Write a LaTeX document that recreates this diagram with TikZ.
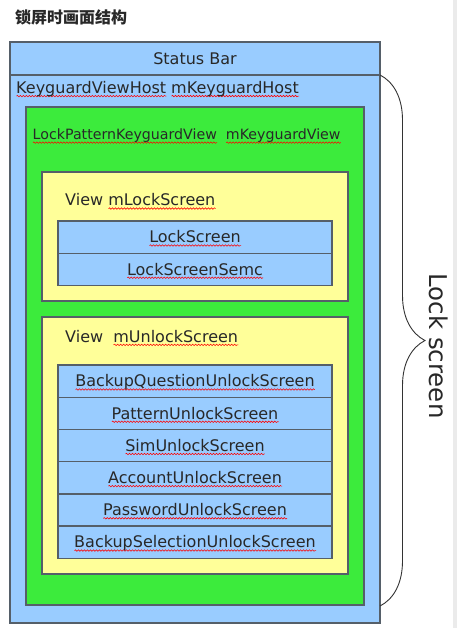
\documentclass[tikz,border=0pt]{standalone}
\usepackage{fontspec}
\setmainfont{DejaVu Sans}
\newfontfamily\cjk{Noto Sans CJK SC}
\usepackage{tikz}
\usetikzlibrary{positioning,decorations.pathreplacing,decorations.pathmorphing}

\definecolor{paleblue}{RGB}{153,204,255}
\definecolor{keygreen}{RGB}{60,235,60}
\definecolor{paleyellow}{RGB}{255,255,153}
\definecolor{edgegray}{RGB}{85,95,105}
\definecolor{txtgray}{RGB}{40,40,40}

% red spell-check wave under a word
\newdimen\wavewd
\newcommand\spellwave[1]{\setbox0=\hbox{#1}\wavewd=\wd0\rlap{\raisebox{-2.6pt}{\tikz[baseline=0pt,x=1pt,y=1pt]\draw[red,line width=0.55pt,decorate,decoration={snake,amplitude=0.75pt,segment length=3pt}] (0,0) -- (\wavewd,0);}}#1}

\begin{document}
\begin{tikzpicture}[x=1pt,y=-1pt,
	box/.style={draw=edgegray,line width=1.2pt,inner sep=0pt,outer sep=0pt,anchor=north west},
	bluebox/.style={box,fill=paleblue},
	greenbox/.style={box,fill=keygreen},
	yellowbox/.style={box,fill=paleyellow},
	rowbox/.style={bluebox,minimum width=274pt,minimum height=32.2pt,text height=11.7pt,text depth=0pt,text=txtgray,font=\fontsize{16}{19}\selectfont},
	sepline/.style={draw=edgegray,line width=1.4pt},
	lbl/.style={anchor=base west,inner sep=0pt,text=txtgray,font=\fontsize{16}{19}\selectfont},
	brace/.style={draw=black!80,line width=0.9pt,decorate,decoration={brace,amplitude=45pt}}]
	\useasboundingbox (0,0) rectangle (457,628);
	% window edge
	\fill[black!8] (453,0) rectangle (457,628);
	
	% title
	\node[anchor=west,inner sep=0pt,text=txtgray,font=\cjk\bfseries\fontsize{16}{18}\selectfont] (title) at (15,17) {锁屏时画面结构};
	
	% host and status bar
	\node[bluebox,minimum width=370pt,minimum height=548pt] (host) at (10,75) {};
	\node[bluebox,minimum width=370pt,minimum height=33pt,text height=11.7pt,text depth=0pt,text=txtgray,font=\fontsize{16}{19}\selectfont] (statusbar) at (10,42) {Status Bar};
	\node[lbl] (hostlbl) at (16,93.5) {\spellwave{KeyguardViewHost} \spellwave{mKeyguardHost}};
	
	% keyguard view
	\node[greenbox,minimum width=338pt,minimum height=498pt] (kgview) at (26,107) {};
	\node[lbl,font=\fontsize{14.2}{17}\selectfont] (kglbl) at (32.5,140) {\spellwave{LockPatternKeyguardView}\ \ \spellwave{mKeyguardView}};
	
	% lock screen
	\node[yellowbox,minimum width=306pt,minimum height=129pt] (lockview) at (42,172) {};
	\node[lbl] (locklbl) at (65,206) {View \spellwave{mLockScreen}};
	\node[rowbox] (lock1) at (58,221) {\spellwave{LockScreen}};
	\node[rowbox,below=0pt of lock1] (lock2) {\spellwave{LockScreenSemc}};
	\draw[sepline] (lock2.north west) -- (lock2.north east);
	
	% unlock screen
	\node[yellowbox,minimum width=306pt,minimum height=257pt] (unlockview) at (42,317) {};
	\node[lbl] (unlocklbl) at (65,342.3) {View\ \ \spellwave{mUnlockScreen}};
	\node[rowbox] (unlock0) at (58,365) {\spellwave{BackupQuestionUnlockScreen}};
	\foreach \name [count=\i, remember=\i as \j (initially 0)] in {PatternUnlockScreen,SimUnlockScreen,AccountUnlockScreen,PasswordUnlockScreen,BackupSelectionUnlockScreen}
		\node[rowbox,below=0pt of unlock\j] (unlock\i) {\spellwave{\name}};
	\foreach \i in {1,...,5}
		\draw[sepline] (unlock\i.north west) -- (unlock\i.north east);
	
	% brace
	\coordinate (bracetop) at (host.north east);
	\coordinate (bracebot) at ([yshift=17pt]host.south east);
	\draw[brace] (bracetop) -- (bracebot);
	\node[rotate=-90,inner sep=0pt,text=txtgray,font=\fontsize{24.5}{29}\selectfont] (lockscreenlbl) at (439,346) {Lock screen};
\end{tikzpicture}
\end{document}
